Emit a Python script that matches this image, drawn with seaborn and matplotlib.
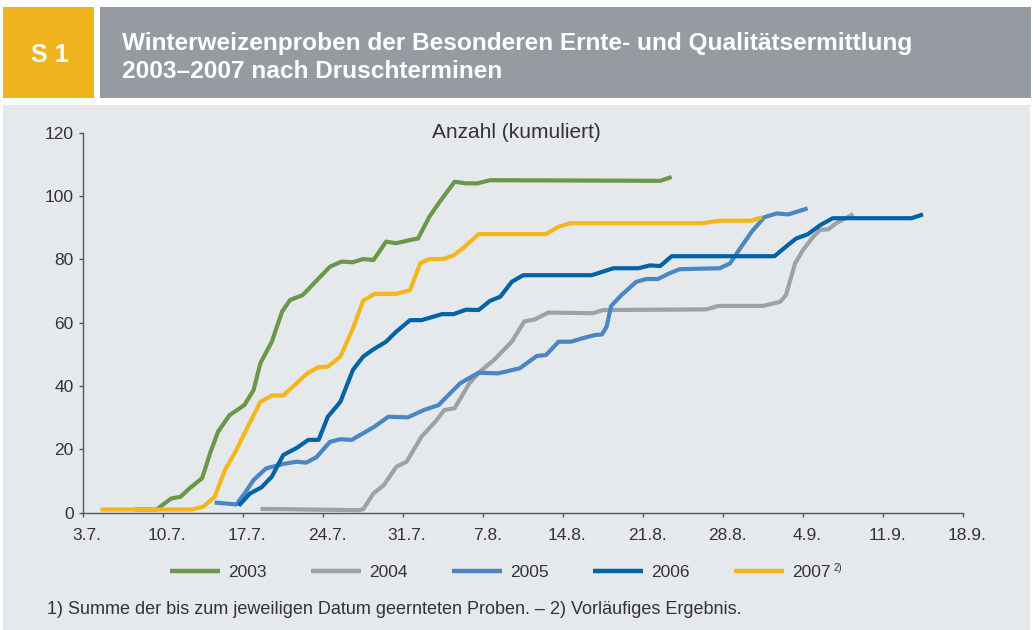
import matplotlib
matplotlib.use('Agg')
import pandas as pd
import matplotlib.pyplot as plt
import matplotlib.transforms as mtransforms
from matplotlib.patches import Rectangle
from matplotlib.lines import Line2D
import seaborn as sns

# Tage seit dem 3.7. und kumulierte Anzahl je Erntejahr
tage_2003 = [4.5, 6.4, 7.7, 8.5, 9.3, 10.4, 11.1, 11.8, 12.8, 14.1, 14.9, 15.5, 16.5, 17.4,
             18.1, 19.2, 20.6, 21.6, 22.6, 23.6, 24.5, 25.4, 26.5, 27.4, 28.6, 29.3, 30.3,
             31.2, 32.5, 33.5, 34.5, 35.6, 50.5, 51.5]
werte_2003 = [1, 1, 4.5, 5, 7.7, 10.9, 18.8, 25.6, 30.8, 34, 38.7, 47.2, 54, 63.5,
              67.2, 68.7, 74, 77.7, 79.3, 79.1, 80.1, 79.8, 85.6, 85.1, 86.1, 86.6, 93.5,
              98.2, 104.5, 104, 104, 105, 104.8, 106]

tage_2004 = [15.5, 24.1, 24.5, 25.4, 26.3, 27.4, 28.3, 29.6, 30.8, 31.6, 32.5, 33.8, 34.7,
             36.0, 37.5, 38.6, 39.5, 40.7, 44.6, 45.5, 54.5, 55.6, 59.5, 61.0, 61.5, 62.3,
             63.0, 63.9, 64.5, 65.2, 65.9, 67.4]
werte_2004 = [1.2, 0.8, 1.1, 6.1, 8.7, 14.5, 16.1, 24, 28.7, 32.4, 33, 40.9, 44.5,
              48.4, 54, 60.4, 61, 63.2, 63, 64, 64.2, 65.3, 65.3, 66.6, 68.7, 78.7,
              83, 87.2, 89.3, 89.5, 91.4, 94.3]

tage_2005 = [11.5, 13.4, 14.2, 14.9, 16.0, 17.5, 18.7, 19.5, 20.4, 21.6, 22.5, 23.5, 24.5,
             25.5, 26.7, 28.4, 29.8, 31.1, 31.8, 33.0, 34.6, 36.3, 38.2, 39.7, 40.5, 41.6,
             42.7, 43.7, 44.8, 45.4, 45.8, 46.2, 47.1, 48.4, 49.3, 50.3, 51.3, 52.2, 55.7,
             56.6, 57.5, 58.5, 59.6, 60.7, 61.7, 63.4]
werte_2005 = [3.2, 2.6, 6.5, 10.3, 14, 15.4, 16.1, 15.8, 17.5, 22.4, 23.2, 23, 25.1,
              27.2, 30.3, 30.1, 32.4, 34, 36.6, 40.9, 44.2, 44, 45.6, 49.5, 49.8, 54,
              54, 55.1, 56.1, 56.3, 58.7, 65.3, 68.7, 72.9, 73.8, 73.8, 75.6, 76.9, 77.2,
              78.7, 83.5, 88.7, 93.3, 94.5, 94.2, 96.1]

tage_2006 = [13.6, 14.6, 15.6, 16.5, 17.5, 18.7, 19.7, 20.6, 21.4, 22.5, 23.6, 24.5, 25.4,
             26.5, 27.4, 28.6, 29.6, 31.4, 32.4, 33.5, 34.6, 35.6, 36.5, 37.5, 38.5, 44.5,
             46.4, 48.6, 49.6, 50.5, 51.5, 60.5, 61.5, 62.4, 63.4, 64.5, 65.6, 72.5, 73.5]
werte_2006 = [2.2, 6.1, 8, 11.4, 18.2, 20.5, 23, 23, 30.3, 35, 45.1, 49.3, 51.6,
              54, 57.2, 60.8, 60.8, 62.7, 62.7, 64.1, 64, 66.9, 68.2, 72.9, 75, 75,
              77.2, 77.2, 78.1, 77.9, 81, 81, 84, 86.6, 87.9, 90.8, 93, 93, 94.2]

tage_2007 = [1.5, 9.5, 10.5, 11.5, 12.4, 13.4, 14.4, 15.5, 16.5, 17.5, 18.5, 19.6, 20.6,
             21.4, 22.5, 23.6, 24.5, 25.5, 27.4, 28.6, 29.5, 30.3, 31.5, 32.4, 33.4, 34.6,
             40.5, 41.6, 42.6, 54.2, 55.6, 58.5, 59.4]
werte_2007 = [1, 1, 1.9, 5, 13.5, 19.8, 27.2, 35, 37, 37, 40.3, 44, 46,
              46.1, 49.3, 58.2, 67, 69.1, 69.1, 70.3, 78.8, 80.1, 80.1, 81.2, 84, 88,
              88, 90.3, 91.4, 91.4, 92.2, 92.2, 93.3]

jahre = ['2003', '2004', '2005', '2006', '2007']
farben = ['#6A9848', '#9EA2A6', '#4A86C4', '#0063A6', '#F4B61E']
tick_tage = [0, 7, 14, 21, 28, 35, 42, 49, 56, 63, 70, 77]
tick_labels = ['3.7.', '10.7.', '17.7.', '24.7.', '31.7.', '7.8.', '14.8.', '21.8.',
               '28.8.', '4.9.', '11.9.', '18.9.']

sns.set_theme(style='ticks')
plt.rcParams['font.family'] = ['Liberation Sans', 'DejaVu Sans']
textfarbe = '#333333'

frames = []
for jahr, tage, werte in zip(jahre,
                             [tage_2003, tage_2004, tage_2005, tage_2006, tage_2007],
                             [werte_2003, werte_2004, werte_2005, werte_2006, werte_2007]):
    frames.append(pd.DataFrame({'Tag': tage, 'Anzahl': werte, 'Jahr': jahr}))
df = pd.concat(frames, ignore_index=True)

W, H = 1033, 630
fig = plt.figure(figsize=(W / 100, H / 100), dpi=100, facecolor='white')

# Kopfzeile und Hintergrundflaeche
fig.add_artist(Rectangle((3 / W, 1 - 98 / H), 91 / W, 91 / H, transform=fig.transFigure,
                         facecolor='#EFB31E', edgecolor='none', zorder=-2))
fig.add_artist(Rectangle((100 / W, 1 - 98 / H), 931 / W, 91 / H, transform=fig.transFigure,
                         facecolor='#969BA1', edgecolor='none', zorder=-2))
fig.add_artist(Rectangle((3 / W, 0), 1027 / W, 1 - 105 / H, transform=fig.transFigure,
                         facecolor='#E6E9EC', edgecolor='none', zorder=-2))
fig.text(50 / W, 1 - 62 / H, 'S 1', color='white', fontsize=18, fontweight='bold',
         ha='center', va='baseline')
fig.text(122 / W, 1 - 50 / H, 'Winterweizenproben der Besonderen Ernte- und Qualitätsermittlung',
         color='white', fontsize=17.6, fontweight='bold', ha='left', va='baseline')
fig.text(122 / W, 1 - 78 / H, '2003–2007 nach Druschterminen',
         color='white', fontsize=17.6, fontweight='bold', ha='left', va='baseline')

ax = fig.add_axes([83.3 / W, 117.3 / H, 879.7 / W, 380 / H])
ax.set_facecolor('none')
sns.lineplot(data=df, x='Tag', y='Anzahl', hue='Jahr', hue_order=jahre,
             palette=dict(zip(jahre, farben)), linewidth=3, estimator=None, sort=False,
             legend=False, ax=ax)
for line in ax.lines:
    line.set_solid_capstyle('butt')
    line.set_solid_joinstyle('round')

ax.set_xlim(0, 77)
ax.set_ylim(0, 120)
ax.set_xticks(tick_tage)
ax.set_xticklabels(tick_labels)
ax.set_yticks(range(0, 121, 20))
ax.set_xlabel('')
ax.set_ylabel('')
sns.despine(ax=ax)
for side in ['left', 'bottom']:
    ax.spines[side].set_color('#555555')
    ax.spines[side].set_linewidth(1)
ax.tick_params(axis='both', direction='out', length=3, width=1, color='#555555',
               labelsize=12.5, labelcolor=textfarbe)
ax.tick_params(axis='y', pad=4)
ax.tick_params(axis='x', pad=8)
verschiebung = mtransforms.ScaledTranslation(4 / 100, 0, fig.dpi_scale_trans)
for lbl in ax.get_xticklabels():
    lbl.set_transform(lbl.get_transform() + verschiebung)

ax.text(0.492, 1.0, 'Anzahl (kumuliert)', transform=ax.transAxes, ha='center', va='center',
        fontsize=15, color=textfarbe)

handles = [Line2D([], [], color=c, lw=3.2, solid_capstyle='butt') for c in farben]
leg = fig.legend(handles, jahre, loc='center left', bbox_to_anchor=(170 / W, 1 - 572 / H),
                 ncol=5, frameon=False, fontsize=12.5, handlelength=2.9, handletextpad=0.45,
                 columnspacing=2.55, borderpad=0, borderaxespad=0, labelcolor=textfarbe)

fig.text(47 / W, 1 - 610 / H,
         '1) Summe der bis zum jeweiligen Datum geernteten Proben. – 2) Vorläufiges Ergebnis.',
         fontsize=13, color=textfarbe, ha='left', va='center')

fig.canvas.draw()
bb = leg.get_texts()[-1].get_window_extent()
fig.text((bb.x1 + 3) / W, (bb.y1 - 6) / H, '2)', fontsize=7, color=textfarbe,
         ha='left', va='baseline')

fig.savefig('out.png', dpi=100, facecolor='white')
